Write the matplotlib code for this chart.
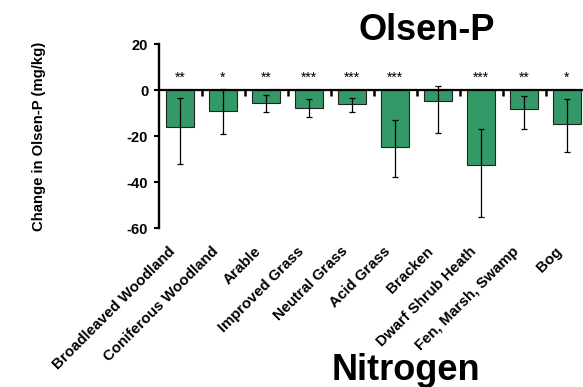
import matplotlib
matplotlib.use("Agg")
import matplotlib.pyplot as plt
import numpy as np

plt.rcParams['font.family'] = ['Liberation Sans', 'DejaVu Sans']
plt.rcParams['axes.unicode_minus'] = False

categories = ["Broadleaved Woodland", "Coniferous Woodland", "Arable", "Improved Grass",
              "Neutral Grass", "Acid Grass", "Bracken", "Dwarf Shrub Heath",
              "Fen, Marsh, Swamp", "Bog"]
means = [-16.3, -9.0, -5.5, -7.7, -6.2, -24.8, -4.9, -32.7, -8.4, -14.9]
upper = [-3.6, 0.3, -2.3, -3.9, -3.3, -12.9, 1.9, -16.8, -2.7, -3.9]
lower = [-32.0, -19.2, -9.6, -11.6, -9.7, -38.0, -18.8, -55.2, -17.1, -27.1]
stars = ["**", "*", "**", "***", "***", "***", "", "***", "**", "*"]
yticks = [20, 0, -20, -40, -60]

W, H = 583, 387
fig = plt.figure(figsize=(W / 100, H / 100), dpi=100)
ax = fig.add_axes([158.5 / W, 1 - 228 / H, 430 / W, 184 / H])

x = np.arange(len(categories))
m = np.array(means)
err = np.vstack([m - np.array(lower), np.array(upper) - m])
ax.bar(x, m, width=0.65, color='#339966', edgecolor='#222222', linewidth=0.8,
       yerr=err, error_kw=dict(ecolor='black', elinewidth=0.9, capsize=2.0, capthick=0.9),
       zorder=2)

for i, s in enumerate(stars):
    if s:
        ax.text(i, 3.6, s, ha='center', va='baseline', fontsize=10)

ax.set_xlim(-0.5, len(categories) - 0.5)
ax.set_ylim(-60, 20)
ax.set_yticks(yticks)
ax.set_yticklabels([str(v) for v in yticks], fontsize=10.5, fontweight='bold')
ax.tick_params(axis='y', direction='out', length=3.6, width=1.5, pad=3.8)

ax.spines['top'].set_visible(False)
ax.spines['right'].set_visible(False)
ax.spines['bottom'].set_position(('data', 0))
ax.spines['left'].set_linewidth(1.7)
ax.spines['bottom'].set_linewidth(1.6)
ax.spines['bottom'].set_zorder(3)
ax.set_xticks(x[:-1] + 0.5)
ax.set_xticklabels([])
ax.tick_params(axis='x', direction='out', length=4, width=1.8)

for i, c in enumerate(categories):
    ax.annotate(c, xy=(i, -60), xycoords='data', xytext=(-8.5, -11.5),
                textcoords='offset points', rotation=45, ha='right', va='top',
                rotation_mode='anchor', fontsize=10.8, fontweight='bold',
                annotation_clip=False)

fig.text(39 / W, 1 - 136.5 / H, "Change in Olsen-P (mg/kg)", rotation=90,
         ha='center', va='center', fontsize=10.7, fontweight='bold')
fig.text(426.7 / W, 1 - 40 / H, "Olsen-P", ha='center', va='baseline',
         fontsize=26, fontweight='bold')
fig.text(406 / W, 1 - 380 / H, "Nitrogen", ha='center', va='baseline',
         fontsize=26, fontweight='bold')

fig.savefig("out.png", dpi=100)
